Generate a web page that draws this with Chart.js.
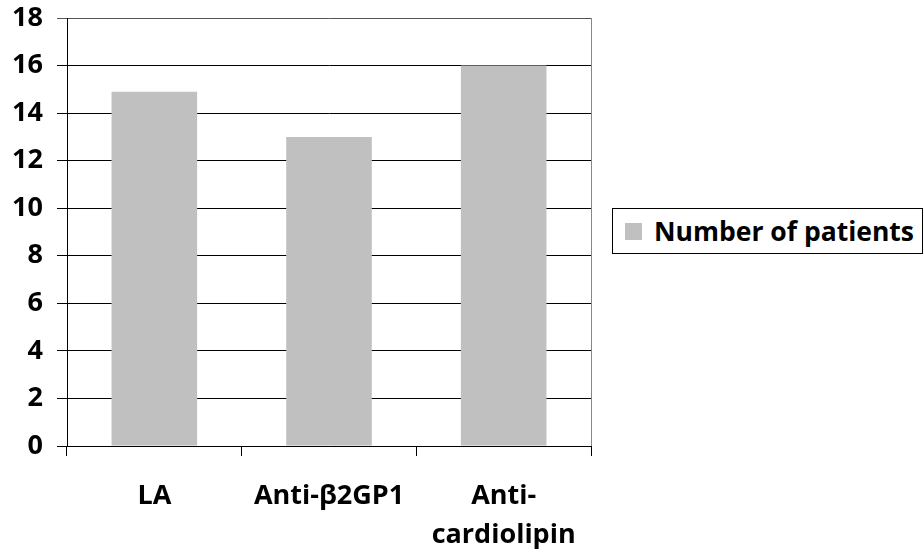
<!DOCTYPE html>
<html>
<head>
<meta charset="utf-8">
<script src="https://cdn.jsdelivr.net/npm/chart.js@4"></script>
<style>
  html, body { margin: 0; padding: 0; background: #fff; }
  #wrap { position: relative; width: 924px; height: 559px; }
  #legend {
    position: absolute; left: 612px; top: 208px; width: 309px; height: 44px;
    border: 1px solid #000; background: #fff;
    font: bold 26.5px 'Open Sans', sans-serif; color: #000;
    display: flex; align-items: center; white-space: nowrap;
  }
  #legend .sw { width: 17px; height: 17px; background: #c0c0c0; margin: 0 12px 0 12px; }
</style>
</head>
<body>
<div id="wrap">
  <canvas id="mychart" width="924" height="559"></canvas>
  <div id="legend"><span class="sw"></span><span id="legendText"></span></div>
</div>
<script>
// chart data
var categories = ['LA', 'Anti-\u03b22GP1', ['Anti-', 'cardiolipin']]
var patients = [14.9, 13, 16]
var seriesName = 'Number of patients'
var yTicks = [0, 2, 4, 6, 8, 10, 12, 14, 16, 18]

var tickFont = { family: "'Open Sans', sans-serif", size: 27, weight: 'bold', lineHeight: 1.2 }
var catFont = { family: "'Open Sans', sans-serif", size: 27, weight: 'bold', lineHeight: 1.45 }

document.getElementById('legendText').textContent = seriesName

// grey right edge of the plot area
var framePlugin = {
    id: 'frame',
    afterDraw: function(chart) {
        var ctx = chart.ctx
        var area = chart.chartArea
        ctx.save()
        ctx.strokeStyle = '#888'
        ctx.lineWidth = 1
        ctx.beginPath()
        ctx.moveTo(area.right + 0.5, area.top)
        ctx.lineTo(area.right + 0.5, area.bottom)
        ctx.stroke()
        ctx.restore()
    }
}

var mychart = document.getElementById('mychart').getContext('2d')
var chart = new Chart(mychart, {
    type: 'bar',
    data: {
        labels: categories,
        datasets: [{
            label: seriesName,
            data: patients,
            backgroundColor: '#c0c0c0',
            borderWidth: 0,
            barPercentage: 0.49,
            categoryPercentage: 1
        }]
    },
    options: {
        responsive: false,
        animation: false,
        layout: { padding: { top: 0, left: 0, right: 333, bottom: 0 } },
        plugins: {
            tooltip: { enabled: false },
            legend: { display: false }
        },
        scales: {
            x: {
                grid: { display: true, drawOnChartArea: false, drawTicks: true, tickLength: 10, color: '#000', offset: true },
                border: { display: true, color: '#000', width: 1 },
                ticks: { color: '#000', font: catFont, padding: 21, maxRotation: 0 },
                afterFit: function(scale) { scale.height = 113 }
            },
            y: {
                min: 0,
                max: 18,
                afterBuildTicks: function(scale) { scale.ticks = yTicks.map(function(v) { return { value: v } }) },
                grid: {
                    color: function(c) { return c.tick && c.tick.value === 18 ? '#555' : '#000' },
                    tickLength: 10
                },
                border: { display: true, color: '#000', width: 1 },
                ticks: { color: '#000', font: tickFont, padding: 14 },
                afterFit: function(scale) {
                    scale.width = 67
                    scale.paddingTop = 18
                }
            }
        }
    },
    plugins: [framePlugin]
})
</script>
</body>
</html>
